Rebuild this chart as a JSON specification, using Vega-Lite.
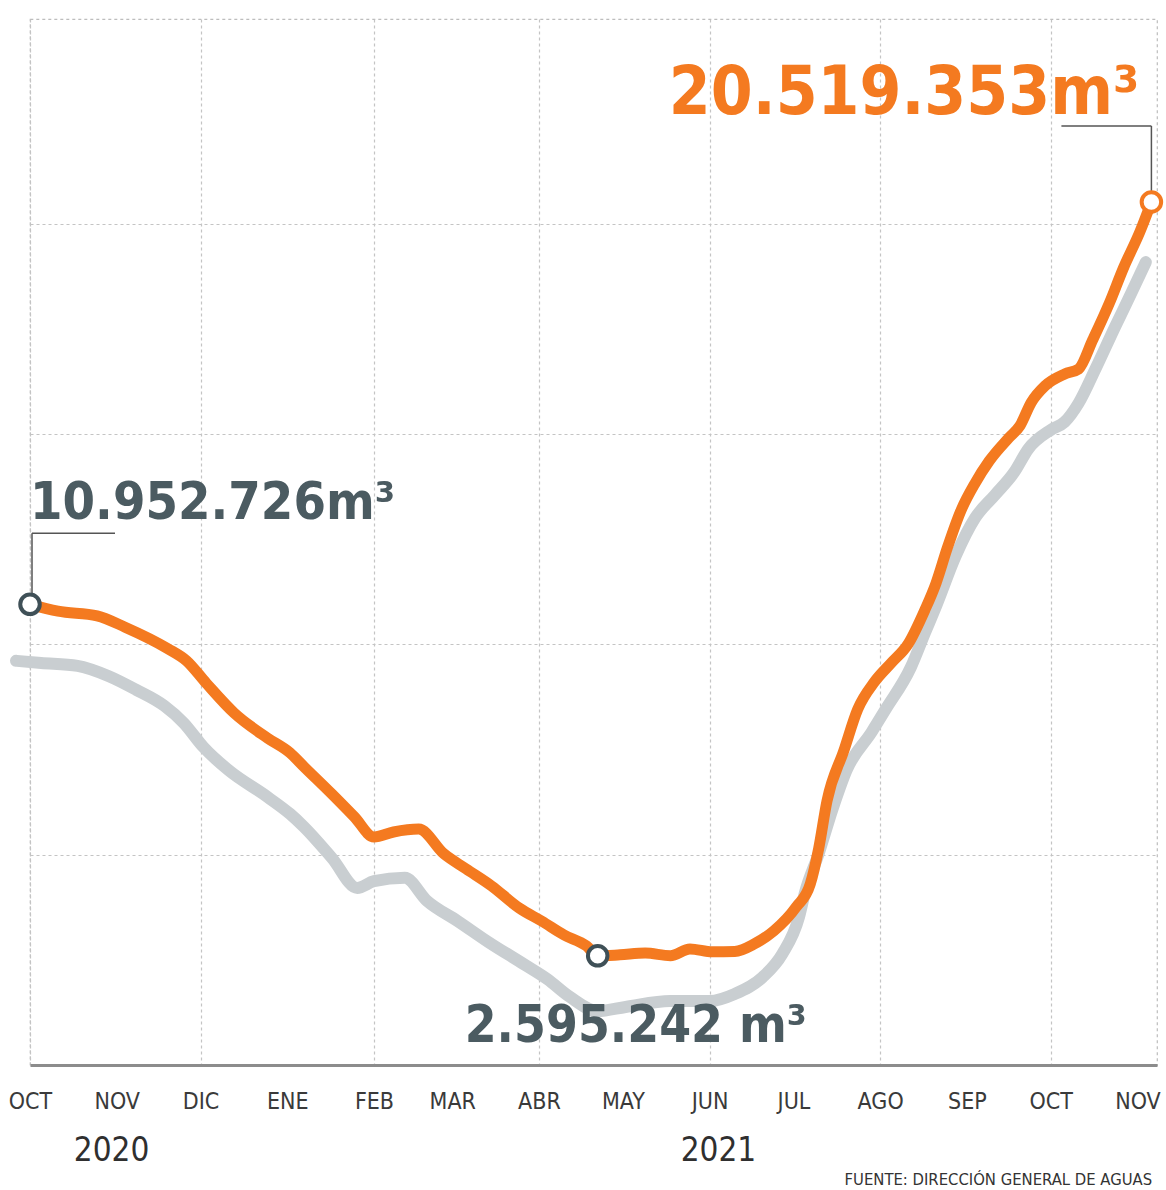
{
  "$schema": "https://vega.github.io/schema/vega-lite/v6.json",
  "width": 1127,
  "height": 1046,
  "autosize": {"type": "none"},
  "padding": {"left": 30, "top": 19, "right": 9, "bottom": 125},
  "background": "white",
  "config": {
    "view": {"stroke": "#bdbdbd", "strokeDash": [3, 3], "strokeWidth": 1.2},
    "font": "DejaVu Sans Condensed, Roboto, sans-serif"
  },
  "title": {
    "text": "FUENTE: DIRECCIÓN GENERAL DE AGUAS",
    "orient": "bottom",
    "anchor": "end",
    "fontSize": 16.5,
    "fontWeight": "normal",
    "color": "#333333",
    "font": "DejaVu Sans Condensed, Roboto, sans-serif",
    "dx": -17,
    "offset": 5
  },
  "datasets": {
    "orange": [
      {"date": "2020-10-01", "value": 10952726},
      {"date": "2020-10-11", "value": 10790000},
      {"date": "2020-10-25", "value": 10680000},
      {"date": "2020-11-04", "value": 10410000},
      {"date": "2020-11-19", "value": 9910000},
      {"date": "2020-11-26", "value": 9610000},
      {"date": "2020-12-03", "value": 9080000},
      {"date": "2020-12-13", "value": 8370000},
      {"date": "2020-12-25", "value": 7770000},
      {"date": "2021-01-02", "value": 7420000},
      {"date": "2021-01-07", "value": 7090000},
      {"date": "2021-01-17", "value": 6440000},
      {"date": "2021-01-25", "value": 5900000},
      {"date": "2021-02-01", "value": 5420000},
      {"date": "2021-02-08", "value": 5540000},
      {"date": "2021-02-17", "value": 5610000},
      {"date": "2021-02-26", "value": 5020000},
      {"date": "2021-03-06", "value": 4660000},
      {"date": "2021-03-15", "value": 4260000},
      {"date": "2021-03-25", "value": 3730000},
      {"date": "2021-04-02", "value": 3420000},
      {"date": "2021-04-10", "value": 3090000},
      {"date": "2021-04-18", "value": 2830000},
      {"date": "2021-04-22", "value": 2595242},
      {"date": "2021-04-30", "value": 2620000},
      {"date": "2021-05-09", "value": 2660000},
      {"date": "2021-05-18", "value": 2600000},
      {"date": "2021-05-25", "value": 2760000},
      {"date": "2021-06-02", "value": 2690000},
      {"date": "2021-06-10", "value": 2700000},
      {"date": "2021-06-17", "value": 2880000},
      {"date": "2021-06-24", "value": 3190000},
      {"date": "2021-07-02", "value": 3760000},
      {"date": "2021-07-07", "value": 4300000},
      {"date": "2021-07-10", "value": 5140000},
      {"date": "2021-07-13", "value": 6280000},
      {"date": "2021-07-19", "value": 7470000},
      {"date": "2021-07-24", "value": 8460000},
      {"date": "2021-07-30", "value": 9110000},
      {"date": "2021-08-05", "value": 9560000},
      {"date": "2021-08-11", "value": 10010000},
      {"date": "2021-08-17", "value": 10820000},
      {"date": "2021-08-21", "value": 11460000},
      {"date": "2021-08-25", "value": 12290000},
      {"date": "2021-08-30", "value": 13200000},
      {"date": "2021-09-04", "value": 13840000},
      {"date": "2021-09-09", "value": 14360000},
      {"date": "2021-09-16", "value": 14910000},
      {"date": "2021-09-20", "value": 15200000},
      {"date": "2021-09-24", "value": 15750000},
      {"date": "2021-09-29", "value": 16150000},
      {"date": "2021-10-06", "value": 16430000},
      {"date": "2021-10-11", "value": 16550000},
      {"date": "2021-10-16", "value": 17240000},
      {"date": "2021-10-22", "value": 18120000},
      {"date": "2021-10-27", "value": 18950000},
      {"date": "2021-11-02", "value": 19830000},
      {"date": "2021-11-06", "value": 20519353}
    ],
    "gray": [
      {"date": "2020-09-26", "value": 9610000},
      {"date": "2020-10-05", "value": 9560000},
      {"date": "2020-10-18", "value": 9490000},
      {"date": "2020-10-29", "value": 9250000},
      {"date": "2020-11-08", "value": 8920000},
      {"date": "2020-11-18", "value": 8540000},
      {"date": "2020-11-25", "value": 8130000},
      {"date": "2020-12-02", "value": 7560000},
      {"date": "2020-12-11", "value": 7010000},
      {"date": "2020-12-25", "value": 6370000},
      {"date": "2021-01-02", "value": 5970000},
      {"date": "2021-01-07", "value": 5660000},
      {"date": "2021-01-17", "value": 4920000},
      {"date": "2021-01-26", "value": 4210000},
      {"date": "2021-02-01", "value": 4370000},
      {"date": "2021-02-12", "value": 4450000},
      {"date": "2021-02-20", "value": 3900000},
      {"date": "2021-03-03", "value": 3420000},
      {"date": "2021-03-14", "value": 2920000},
      {"date": "2021-03-27", "value": 2380000},
      {"date": "2021-04-04", "value": 2040000},
      {"date": "2021-04-12", "value": 1620000},
      {"date": "2021-04-22", "value": 1280000},
      {"date": "2021-05-02", "value": 1380000},
      {"date": "2021-05-18", "value": 1520000},
      {"date": "2021-06-01", "value": 1520000},
      {"date": "2021-06-10", "value": 1690000},
      {"date": "2021-06-20", "value": 2090000},
      {"date": "2021-06-27", "value": 2640000},
      {"date": "2021-07-03", "value": 3520000},
      {"date": "2021-07-05", "value": 4070000},
      {"date": "2021-07-10", "value": 5020000},
      {"date": "2021-07-15", "value": 6090000},
      {"date": "2021-07-20", "value": 7010000},
      {"date": "2021-07-29", "value": 7920000},
      {"date": "2021-08-03", "value": 8460000},
      {"date": "2021-08-12", "value": 9460000},
      {"date": "2021-08-17", "value": 10270000},
      {"date": "2021-08-21", "value": 10910000},
      {"date": "2021-08-28", "value": 12100000},
      {"date": "2021-09-04", "value": 13010000},
      {"date": "2021-09-11", "value": 13550000},
      {"date": "2021-09-18", "value": 14100000},
      {"date": "2021-09-23", "value": 14650000},
      {"date": "2021-10-01", "value": 15100000},
      {"date": "2021-10-06", "value": 15290000},
      {"date": "2021-10-11", "value": 15740000},
      {"date": "2021-10-17", "value": 16550000},
      {"date": "2021-10-24", "value": 17550000},
      {"date": "2021-10-30", "value": 18380000},
      {"date": "2021-11-04", "value": 19090000}
    ],
    "notes": [
      {"date": "2020-10-01", "value": 10952726, "label": "10.952.726m³", "kind": "start"},
      {"date": "2021-04-22", "value": 2595242, "label": "2.595.242 m³", "kind": "min"},
      {"date": "2021-11-06", "value": 20519353, "label": "20.519.353m³", "kind": "max"}
    ]
  },
  "encoding": {
    "y": {
      "field": "value",
      "type": "quantitative",
      "scale": {"domain": [0, 24870000], "nice": false, "zero": false},
      "axis": {
        "values": [5000000, 10000000, 15000000, 20000000],
        "grid": true,
        "gridColor": "#c4c4c4",
        "gridDash": [3, 3],
        "gridWidth": 1.2,
        "labels": false,
        "ticks": false,
        "domain": false,
        "title": null
      }
    }
  },
  "layer": [
    {
      "data": {"name": "gray"},
      "mark": {"type": "line", "color": "#c9ced1", "strokeWidth": 12, "strokeCap": "round", "strokeJoin": "round", "interpolate": "monotone"},
      "encoding": {
        "x": {
          "field": "date",
          "type": "temporal",
          "scale": {
            "type": "utc",
            "nice": false,
            "domain": [
              {"year": 2020, "month": 10, "date": 1, "utc": true},
              {"year": 2021, "month": 11, "date": 8, "utc": true}
            ]
          },
          "axis": {
            "orient": "bottom",
            "title": null,
            "values": [
              {"year": 2020, "month": 10, "date": 1, "utc": true},
              {"year": 2020, "month": 11, "date": 1, "utc": true},
              {"year": 2020, "month": 12, "date": 1, "utc": true},
              {"year": 2021, "month": 1, "date": 1, "utc": true},
              {"year": 2021, "month": 2, "date": 1, "utc": true},
              {"year": 2021, "month": 3, "date": 1, "utc": true},
              {"year": 2021, "month": 4, "date": 1, "utc": true},
              {"year": 2021, "month": 5, "date": 1, "utc": true},
              {"year": 2021, "month": 6, "date": 1, "utc": true},
              {"year": 2021, "month": 7, "date": 1, "utc": true},
              {"year": 2021, "month": 8, "date": 1, "utc": true},
              {"year": 2021, "month": 9, "date": 1, "utc": true},
              {"year": 2021, "month": 10, "date": 1, "utc": true},
              {"year": 2021, "month": 11, "date": 1, "utc": true}
            ],
            "labelExpr": "['ENE','FEB','MAR','ABR','MAY','JUN','JUL','AGO','SEP','OCT','NOV','DIC'][utcmonth(datum.value)]",
            "labelFontSize": 23,
            "labelColor": "#3a3a3a",
            "labelFont": "DejaVu Sans Condensed, Roboto, sans-serif",
            "labelPadding": 25,
            "labelFlush": false,
            "labelOverlap": false,
            "labelBound": false,
            "ticks": false,
            "domain": true,
            "domainColor": "#8c8c8c",
            "domainWidth": 3,
            "grid": true,
            "gridColor": "#c4c4c4",
            "gridDash": [3, 3],
            "gridWidth": 1.2,
            "gridOpacity": {"condition": {"test": "utcmonth(datum.value) % 2 == 1", "value": 1}, "value": 0}
          }
        }
      }
    },
    {
      "data": {"name": "orange"},
      "mark": {"type": "line", "color": "#f47a20", "strokeWidth": 11, "strokeCap": "round", "strokeJoin": "round", "interpolate": "monotone"},
      "encoding": {
        "x": {
          "field": "date",
          "type": "temporal",
          "axis": {
            "orient": "bottom",
            "title": null,
            "values": [
              {"year": 2020, "month": 10, "date": 30, "utc": true},
              {"year": 2021, "month": 6, "date": 4, "utc": true}
            ],
            "labelExpr": "utcFormat(datum.value, '%Y')",
            "labelFontSize": 33,
            "labelColor": "#2f2f2f",
            "labelFont": "DejaVu Sans Condensed, Roboto, sans-serif",
            "labelPadding": 69,
            "labelFlush": false,
            "labelOverlap": false,
            "ticks": false,
            "domain": false,
            "grid": false
          }
        }
      }
    },
    {
      "data": {"name": "notes"},
      "transform": [{"filter": "datum.kind == 'start'"}],
      "mark": {"type": "rule", "color": "#555555", "strokeWidth": 1.5, "xOffset": 2, "yOffset": -10, "y2Offset": -71},
      "encoding": {
        "x": {"field": "date", "type": "temporal", "axis": null},
        "y2": {"field": "value"}
      }
    },
    {
      "data": {"name": "notes"},
      "transform": [{"filter": "datum.kind == 'start'"}],
      "mark": {"type": "rule", "color": "#555555", "strokeWidth": 1.5, "xOffset": 2, "x2Offset": 85, "yOffset": -71},
      "encoding": {
        "x": {"field": "date", "type": "temporal", "axis": null},
        "x2": {"field": "date"}
      }
    },
    {
      "data": {"name": "notes"},
      "transform": [{"filter": "datum.kind == 'max'"}],
      "mark": {"type": "rule", "color": "#555555", "strokeWidth": 1.5, "yOffset": -11, "y2Offset": -76},
      "encoding": {
        "x": {"field": "date", "type": "temporal", "axis": null},
        "y2": {"field": "value"}
      }
    },
    {
      "data": {"name": "notes"},
      "transform": [{"filter": "datum.kind == 'max'"}],
      "mark": {"type": "rule", "color": "#555555", "strokeWidth": 1.5, "x2Offset": -90, "yOffset": -76},
      "encoding": {
        "x": {"field": "date", "type": "temporal", "axis": null},
        "x2": {"field": "date"}
      }
    },
    {
      "data": {"name": "notes"},
      "mark": {"type": "point", "shape": "circle", "filled": true, "fill": "white", "size": 380, "strokeWidth": 4, "opacity": 1},
      "encoding": {
        "x": {"field": "date", "type": "temporal", "axis": null},
        "stroke": {"condition": {"test": "datum.kind == 'max'", "value": "#f47a20"}, "value": "#3f5057"}
      }
    },
    {
      "data": {"name": "notes"},
      "transform": [{"filter": "datum.kind == 'start'"}],
      "mark": {"type": "text", "align": "left", "baseline": "alphabetic", "dx": 0, "dy": -85, "fontSize": 52, "fontWeight": "bold", "font": "DejaVu Sans Condensed, Roboto, sans-serif", "color": "#4b5b61"},
      "encoding": {
        "x": {"field": "date", "type": "temporal", "axis": null},
        "text": {"field": "label"}
      }
    },
    {
      "data": {"name": "notes"},
      "transform": [{"filter": "datum.kind == 'min'"}],
      "mark": {"type": "text", "align": "left", "baseline": "alphabetic", "dx": -133, "dy": 86, "fontSize": 51, "fontWeight": "bold", "font": "DejaVu Sans Condensed, Roboto, sans-serif", "color": "#4b5b61"},
      "encoding": {
        "x": {"field": "date", "type": "temporal", "axis": null},
        "text": {"field": "label"}
      }
    },
    {
      "data": {"name": "notes"},
      "transform": [{"filter": "datum.kind == 'max'"}],
      "mark": {"type": "text", "align": "right", "baseline": "alphabetic", "dx": -12, "dy": -88, "fontSize": 67, "fontWeight": "bold", "font": "DejaVu Sans Condensed, Roboto, sans-serif", "color": "#f47a20"},
      "encoding": {
        "x": {"field": "date", "type": "temporal", "axis": null},
        "text": {"field": "label"}
      }
    }
  ],
  "resolve": {"axis": {"x": "independent"}}
}
